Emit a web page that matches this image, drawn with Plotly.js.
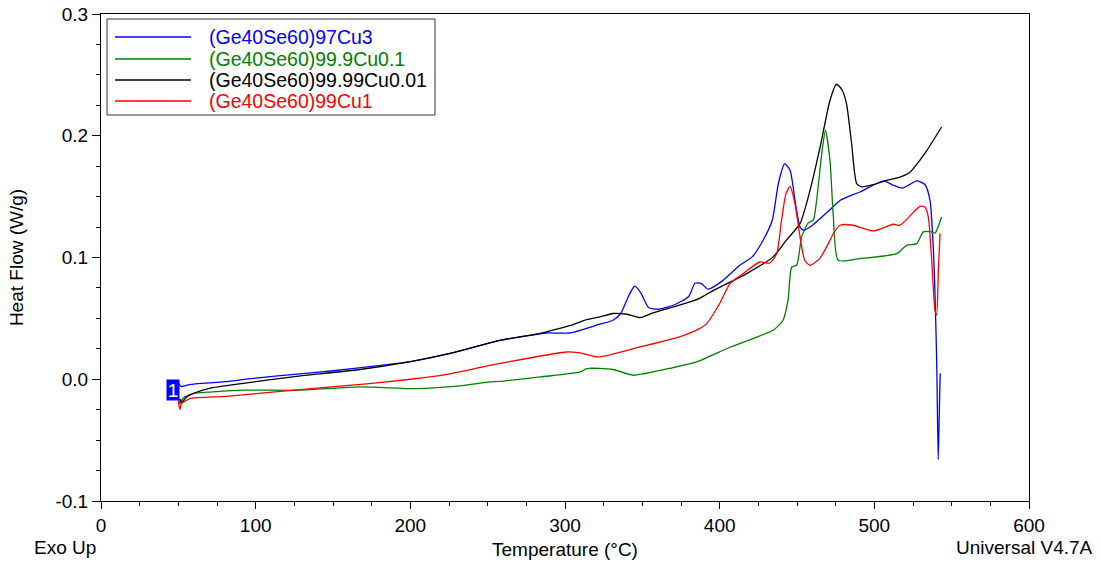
<!DOCTYPE html>
<html>
<head>
<meta charset="utf-8">
<script src="https://cdn.plot.ly/plotly-3.0.1.min.js"></script>
<style>html,body{margin:0;padding:0;background:#fff;}#chart{width:1101px;height:562px;}</style>
</head>
<body>
<div id="chart"></div>
<script>
// Series names
const names = ["(Ge40Se60)97Cu3", "(Ge40Se60)99.9Cu0.1", "(Ge40Se60)99.99Cu0.01", "(Ge40Se60)99Cu1"];
const colors = ["#0000ff", "#008000", "#000000", "#ff0000"];

// (Ge40Se60)97Cu3
const tempCu3 = [49, 50, 52, 55, 60, 70, 80, 100, 125, 150, 175, 200, 225, 258, 277, 288, 303, 322, 331, 336, 341, 345, 349, 354, 360, 370, 380, 384, 388, 392.5, 402, 413, 421, 428, 434, 438, 442, 445.5, 449, 452, 454.5, 460, 465, 471, 478, 491, 506, 512, 518, 523, 527.4, 532.7, 536, 538, 539.2, 540.3, 541.3, 541.8, 542.3, 542.6];
const flowCu3 = [-0.002, -0.003, -0.006, -0.005, -0.004, -0.003, -0.002, 0.001, 0.004, 0.007, 0.0105, 0.0145, 0.021, 0.032, 0.036, 0.038, 0.038, 0.045, 0.0485, 0.054, 0.068, 0.0764, 0.071, 0.059, 0.0575, 0.0608, 0.068, 0.0788, 0.0788, 0.074, 0.081, 0.0936, 0.1005, 0.114, 0.1306, 0.161, 0.177, 0.1717, 0.1445, 0.125, 0.1224, 0.1265, 0.132, 0.1388, 0.147, 0.154, 0.163, 0.1595, 0.157, 0.160, 0.163, 0.160, 0.147, 0.111, 0.071, 0.016, -0.066, -0.040, -0.010, 0.005];

// (Ge40Se60)99.9Cu0.1
const tempCu01 = [50, 51, 53, 59.5, 70, 92, 129, 167.5, 204, 232, 251.5, 258, 284, 310, 314, 331, 344, 370, 385, 407, 421.5, 434.5, 441, 444.2, 446.6, 449.8, 453, 457.3, 460.5, 462.7, 466, 468.4, 471.3, 473.5, 476.7, 490.7, 514.4, 520.9, 527.4, 531.7, 537, 539.2, 543.5];
const flowCu01 = [-0.015, -0.02, -0.0156, -0.0118, -0.0105, -0.009, -0.009, -0.0063, -0.0077, -0.0055, -0.0022, -0.0018, 0.0019, 0.006, 0.0088, 0.008, 0.0033, 0.0096, 0.0142, 0.0265, 0.0334, 0.0402, 0.0485, 0.0649, 0.0922, 0.0936, 0.1169, 0.1284, 0.1306, 0.147, 0.1854, 0.2045, 0.18, 0.1333, 0.0977, 0.0991, 0.1032, 0.110, 0.1114, 0.121, 0.121, 0.120, 0.1333];

// (Ge40Se60)99.99Cu0.01
const tempCu001 = [51, 52, 55, 60, 70, 92, 124, 167.5, 200, 225, 258, 277, 288, 303, 314, 322, 331, 340, 348.5, 357, 374, 387, 396, 417.5, 434.5, 443, 452, 458.4, 465, 471.3, 475.5, 479, 482, 485.3, 488.6, 492, 500, 508, 516.6, 523, 529.5, 534, 543.5];
const flowCu001 = [-0.016, -0.019, -0.015, -0.0115, -0.0074, -0.0033, 0.002, 0.008, 0.0145, 0.021, 0.032, 0.036, 0.039, 0.044, 0.049, 0.051, 0.054, 0.0534, 0.0507, 0.0545, 0.0608, 0.0665, 0.073, 0.0868, 0.1005, 0.114, 0.128, 0.155, 0.191, 0.229, 0.2423, 0.238, 0.2264, 0.1936, 0.1607, 0.158, 0.160, 0.1634, 0.166, 0.170, 0.18, 0.188, 0.2072];

// (Ge40Se60)99Cu1
const tempCu1 = [50, 51, 52, 57.5, 81, 128.7, 170, 200, 219, 258, 301, 309.7, 321.5, 348.5, 374, 387, 391.6, 400, 406.7, 415.3, 426, 432.5, 436.9, 440, 442.9, 445.5, 448.7, 452, 455, 458.4, 464.9, 471.3, 473.5, 477.8, 486.4, 499.3, 512.3, 516.6, 529.5, 532.7, 534.9, 537.1, 539.2, 540.3, 541.4, 542.5];
const flowCu1 = [-0.018, -0.025, -0.02, -0.0159, -0.014, -0.0085, -0.004, 0.0, 0.003, 0.013, 0.0224, 0.0216, 0.0183, 0.0265, 0.0348, 0.0416, 0.0457, 0.0622, 0.0786, 0.0868, 0.0963, 0.0955, 0.1032, 0.1306, 0.1525, 0.1585, 0.1443, 0.1169, 0.0977, 0.0936, 0.0995, 0.114, 0.1197, 0.1265, 0.1265, 0.1218, 0.1273, 0.1265, 0.142, 0.1415, 0.1333, 0.0977, 0.0567, 0.0526, 0.0895, 0.1197];

// Axis ticks
const xTickVals = [0, 100, 200, 300, 400, 500, 600];
const xTickText = ["0", "100", "200", "300", "400", "500", "600"];
const yTickVals = [-0.1, 0.0, 0.1, 0.2, 0.3];
const yTickText = ["-0.1", "0.0", "0.1", "0.2", "0.3"];

const xs = [tempCu3, tempCu01, tempCu001, tempCu1];
const ys = [flowCu3, flowCu01, flowCu001, flowCu1];

const FONT = "Liberation Sans, Arial, sans-serif";
const FS = 19;

const traces = xs.map((x, i) => ({
  x: x, y: ys[i], type: "scatter", mode: "lines", name: names[i],
  line: {color: colors[i], width: 1.3, shape: "spline", smoothing: 0.6}, showlegend: false
}));

// custom legend (line samples longer than Plotly's default)
const legRows = [0.9528, 0.9076, 0.8645, 0.8214];
const shapes = [{
  type: "rect", xref: "paper", yref: "paper",
  x0: 0.0065, x1: 0.3599, y0: 0.7926, y1: 0.9897,
  line: {color: "#333333", width: 1}, fillcolor: "#ffffff"
}];
const annotations = [];
names.forEach((n, i) => {
  shapes.push({type: "line", xref: "paper", yref: "paper",
    x0: 0.0151, x1: 0.097, y0: legRows[i], y1: legRows[i],
    line: {color: colors[i], width: 1.5}});
  annotations.push({xref: "paper", yref: "paper", x: 0.1143, y: legRows[i],
    xanchor: "left", yanchor: "middle", showarrow: false, text: n,
    font: {family: FONT, size: 19.5, color: colors[i]}});
});
annotations.push({xref: "x", yref: "y", x: 46.6, y: -0.0088, text: "1", showarrow: false,
  bgcolor: "#0000ff", font: {family: FONT, size: 19, color: "#ffffff"}, borderpad: 0,
  width: 12, height: 20, xanchor: "center", yanchor: "middle"});
annotations.push({xref: "paper", yref: "paper", x: -0.0743, y: -0.0965, xanchor: "left", yanchor: "middle",
  text: "Exo Up", showarrow: false, font: {family: FONT, size: FS, color: "#000"}});
annotations.push({xref: "paper", yref: "paper", x: 1.0711, y: -0.0965, xanchor: "right", yanchor: "middle",
  text: "Universal V4.7A", showarrow: false, font: {family: FONT, size: FS, color: "#000"}});

const axisCommon = {
  showgrid: false, zeroline: false, showline: true, linecolor: "#000", linewidth: 1,
  mirror: true, ticks: "outside", tickcolor: "#000", tickwidth: 1,
  tickfont: {family: FONT, size: FS, color: "#000"}, automargin: false
};

const layout = {
  width: 1101, height: 562,
  margin: {l: 101, r: 72, t: 14, b: 61, pad: 0},
  paper_bgcolor: "#fff", plot_bgcolor: "#fff",
  font: {family: FONT, color: "#000"},
  xaxis: Object.assign({}, axisCommon, {
    range: [0, 600], tickmode: "array", tickvals: xTickVals, ticktext: xTickText, ticklen: 7,
    minor: {dtick: 25, ticklen: 4, ticks: "outside", tickcolor: "#000", showgrid: false},
    title: {text: "Temperature (°C)", font: {family: FONT, size: FS, color: "#000"}, standoff: 7}
  }),
  yaxis: Object.assign({}, axisCommon, {
    range: [-0.1, 0.3], tickmode: "array", tickvals: yTickVals, ticktext: yTickText, ticklen: 8,
    minor: {dtick: 0.025, tick0: 0, ticklen: 4, ticks: "outside", tickcolor: "#000", showgrid: false},
    title: {text: "Heat Flow (W/g)", font: {family: FONT, size: FS, color: "#000"}, standoff: 26}
  }),
  shapes: shapes, annotations: annotations, showlegend: false
};

Plotly.newPlot("chart", traces, layout, {displayModeBar: false, staticPlot: true});
</script>
</body>
</html>
